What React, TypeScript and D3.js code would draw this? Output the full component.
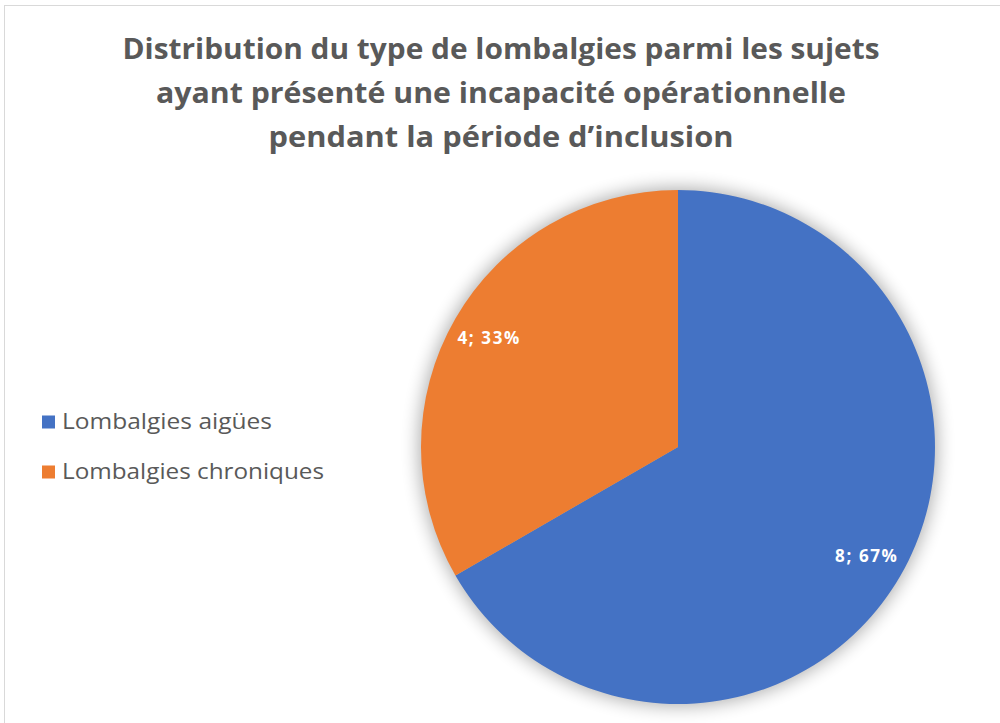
import * as d3 from "d3";

const categories = ["Lombalgies aigües", "Lombalgies chroniques"];
const values = [8, 4];
const percents = ["67%", "33%"];
const colors = ["#4472C4", "#ED7D31"];
const titleLines = [
  "Distribution du type de lombalgies parmi les sujets",
  "ayant présenté une incapacité opérationnelle",
  "pendant la période d\u2019inclusion",
];
const titleWidths = [757, 690, 465];

const WIDTH = 1000;
const HEIGHT = 723;
const CX = 678;
const CY = 447;
const RADIUS = 257;
const LABEL_R = 218;

type Slice = { name: string; value: number; pct: string; fill: string };

export default function App() {
  const data: Slice[] = categories.map((name, i) => ({
    name,
    value: values[i],
    pct: percents[i],
    fill: colors[i],
  }));

  const pie = d3
    .pie<Slice>()
    .value((d) => d.value)
    .sort(null);
  const slices = pie(data);

  const arc = d3.arc<d3.PieArcDatum<Slice>>().innerRadius(0).outerRadius(RADIUS);
  const labelArc = d3
    .arc<d3.PieArcDatum<Slice>>()
    .innerRadius(LABEL_R)
    .outerRadius(LABEL_R);

  return (
    <svg
      width={WIDTH}
      height={HEIGHT}
      style={{ position: "absolute", left: 0, top: 0, background: "#fff" }}
    >
      <defs>
        <filter id="soft-blur" x="-20%" y="-20%" width="140%" height="140%">
          <feGaussianBlur stdDeviation="9" />
        </filter>
      </defs>

      <rect
        x={4.5}
        y={5.5}
        width={WIDTH + 20}
        height={HEIGHT + 20}
        fill="#fff"
        stroke="#d9d9d9"
        strokeWidth={1}
      />

      <g fontFamily="'Open Sans', sans-serif" fontWeight={700} fill="#595959">
        {titleLines.map((t, i) => (
          <text
            key={i}
            x={501}
            y={59 + i * 44}
            textAnchor="middle"
            fontSize={29}
            textLength={titleWidths[i]}
            lengthAdjust="spacingAndGlyphs"
          >
            {t}
          </text>
        ))}
      </g>

      <g transform={`translate(${CX},${CY})`}>
        {/* soft glow shadow behind the pie */}
        <circle r={RADIUS + 2} fill="#000" opacity={0.32} filter="url(#soft-blur)" />
        {slices.map((s) => (
          <path key={s.data.name} d={arc(s) ?? ""} fill={s.data.fill} />
        ))}
        {slices.map((s) => {
          const [x, y] = labelArc.centroid(s);
          return (
            <text
              key={`lbl-${s.data.name}`}
              x={x}
              y={y}
              dy="0.35em"
              textAnchor="middle"
              fill="#fff"
              fontFamily="'Open Sans', sans-serif"
              fontWeight={700}
              fontSize={17}
              letterSpacing={1.6}
            >
              {`${s.data.value}; ${s.data.pct}`}
            </text>
          );
        })}
      </g>

      <g fontFamily="'Open Sans', sans-serif" fill="#595959">
        {data.map((d, i) => (
          <g key={d.name} transform={`translate(42,${422 + i * 50})`}>
            <rect x={0} y={-6.5} width={13} height={13} fill={d.fill} />
            <text
              x={20}
              y={0}
              dy="0.35em"
              fontSize={21}
              textLength={i === 0 ? 210 : 262}
              lengthAdjust="spacingAndGlyphs"
            >
              {d.name}
            </text>
          </g>
        ))}
      </g>
    </svg>
  );
}
